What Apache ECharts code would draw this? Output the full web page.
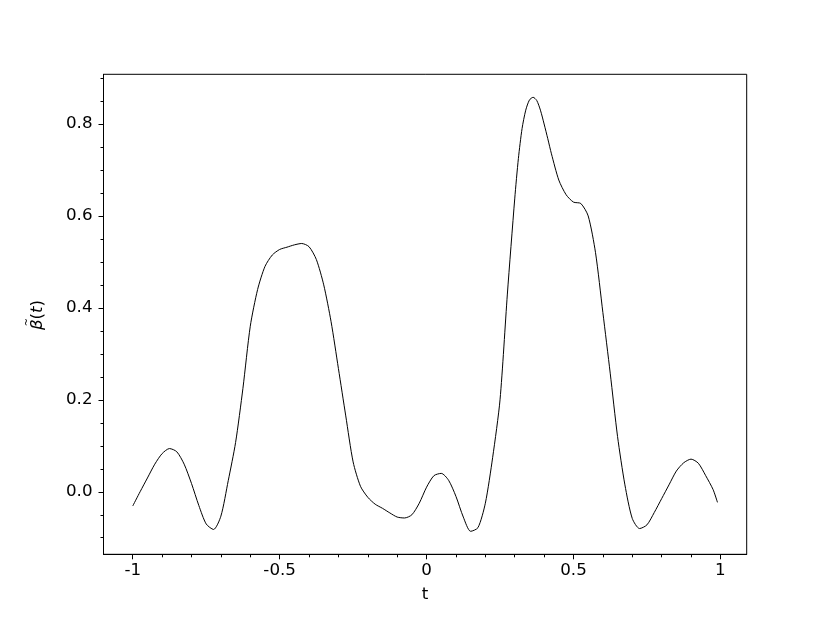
<!DOCTYPE html>
<html>
<head>
<meta charset="utf-8">
<script src="https://cdn.jsdelivr.net/npm/echarts@6/dist/echarts.min.js"></script>
<style>
  html, body { margin: 0; padding: 0; background: #fff; }
  #chart { width: 830px; height: 623px; }
</style>
</head>
<body>
<div id="chart"></div>
<script>
// curve samples
var tValues = [
  -1.00, -0.975, -0.95, -0.925, -0.90, -0.875, -0.85, -0.825, -0.80, -0.775,
  -0.75, -0.725, -0.70, -0.675, -0.65, -0.625, -0.60, -0.575, -0.55, -0.525,
  -0.50, -0.475, -0.45, -0.425, -0.40, -0.375, -0.35, -0.325, -0.30, -0.275,
  -0.25, -0.225, -0.20, -0.175, -0.15, -0.125, -0.10, -0.075, -0.05, -0.025,
  0.00, 0.025, 0.05, 0.075, 0.10, 0.125, 0.15, 0.175, 0.20, 0.225,
  0.25, 0.275, 0.30, 0.3125, 0.325, 0.3375, 0.35, 0.3625, 0.375, 0.3875,
  0.40, 0.4125, 0.425, 0.45, 0.475,
  0.50, 0.525, 0.55, 0.575, 0.60, 0.625, 0.65, 0.675, 0.70, 0.725,
  0.75, 0.775, 0.80, 0.825, 0.85, 0.875, 0.90, 0.925, 0.95, 0.975, 0.99
];
var betaValues = [
  -0.031, 0.000, 0.030, 0.060, 0.083, 0.094, 0.087, 0.060, 0.018, -0.030,
  -0.070, -0.082, -0.053, 0.024, 0.107, 0.225, 0.360, 0.440, 0.490, 0.515,
  0.527, 0.532, 0.537, 0.540, 0.533, 0.505, 0.450, 0.370, 0.268, 0.165,
  0.065, 0.012, -0.012, -0.027, -0.036, -0.046, -0.055, -0.057, -0.050, -0.025,
  0.010, 0.035, 0.040, 0.025, -0.010, -0.055, -0.086, -0.078, -0.025, 0.075,
  0.200, 0.430, 0.637, 0.725, 0.790, 0.830, 0.852, 0.858, 0.851, 0.830,
  0.800, 0.768, 0.735, 0.678, 0.646,
  0.630, 0.627, 0.600, 0.520, 0.390, 0.258, 0.120, 0.015, -0.058, -0.080,
  -0.072, -0.045, -0.015, 0.015, 0.045, 0.063, 0.071, 0.062, 0.035, 0.005, -0.023
];
var xMajorTicks = [-1, -0.5, 0, 0.5, 1];
var xMinorTicks = [-1.0, -0.9, -0.8, -0.7, -0.6, -0.5, -0.4, -0.3, -0.2, -0.1, 0, 0.1, 0.2, 0.3, 0.4, 0.5, 0.6, 0.7, 0.8, 0.9, 1.0];
var yMajorTicks = [0, 0.2, 0.4, 0.6, 0.8];
var yMinorTicks = [-0.1, -0.05, 0, 0.05, 0.1, 0.15, 0.2, 0.25, 0.3, 0.35, 0.4, 0.45, 0.5, 0.55, 0.6, 0.65, 0.7, 0.75, 0.8, 0.85, 0.9];

var points = tValues.map(function (t, i) { return [t, betaValues[i]]; });

var xMin = -1.0995, xMax = 1.0895;
var yMin = -0.136, yMax = 0.908;
var font = "DejaVu Sans";
var fs = 16.7;

var myChart = echarts.init(document.getElementById("chart"), null, { renderer: "canvas" });
myChart.setOption({
  animation: false,
  backgroundColor: "#fff",
  textStyle: { fontFamily: font },
  grid: {
    show: true,
    left: 103.5,
    right: 83.3,
    top: 74.3,
    bottom: 68.7,
    borderColor: "#000",
    borderWidth: 1
  },
  // y label: beta with a tilde over it, drawn as rotated text
  graphic: [
    {
      type: "group",
      x: 38,
      y: 315,
      rotation: Math.PI / 2,
      children: [
        {
          type: "text",
          x: 0,
          y: 0,
          style: {
            text: "{g|β}({g|t})",
            align: "center",
            verticalAlign: "middle",
            fontFamily: font,
            fontSize: fs,
            fill: "#000",
            rich: { g: { fontFamily: font, fontSize: fs, fontStyle: "italic", fill: "#000" } }
          }
        },
        {
          type: "text",
          x: -7,
          y: -11,
          style: {
            text: "~",
            align: "center",
            verticalAlign: "middle",
            fontFamily: font,
            fontSize: 10,
            fill: "#000"
          }
        }
      ]
    }
  ],
  xAxis: [
    {
      type: "value",
      min: xMin,
      max: xMax,
      name: "t",
      nameLocation: "middle",
      nameGap: 32,
      nameTextStyle: { fontFamily: font, fontSize: fs, color: "#000" },
      axisLine: { show: true, onZero: false, lineStyle: { color: "#000", width: 1 } },
      axisTick: { show: true, customValues: xMajorTicks, length: 5, lineStyle: { color: "#000" } },
      axisLabel: {
        customValues: xMajorTicks,
        margin: 8,
        fontFamily: font,
        fontSize: fs,
        color: "#000",
        formatter: function (v) { return String(v); }
      },
      splitLine: { show: false }
    },
    {
      type: "value",
      min: xMin,
      max: xMax,
      position: "bottom",
      axisLine: { show: false, onZero: false },
      axisTick: { show: true, customValues: xMinorTicks, length: 3, lineStyle: { color: "#000" } },
      axisLabel: { show: false },
      splitLine: { show: false }
    }
  ],
  yAxis: [
    {
      type: "value",
      min: yMin,
      max: yMax,
      axisLine: { show: true, onZero: false, lineStyle: { color: "#000", width: 1 } },
      axisTick: { show: true, customValues: yMajorTicks, length: 5, lineStyle: { color: "#000" } },
      axisLabel: {
        customValues: yMajorTicks,
        margin: 11,
        fontFamily: font,
        fontSize: fs,
        color: "#000",
        formatter: function (v) { return v.toFixed(1); }
      },
      splitLine: { show: false }
    },
    {
      type: "value",
      min: yMin,
      max: yMax,
      position: "left",
      axisLine: { show: false, onZero: false },
      axisTick: { show: true, customValues: yMinorTicks, length: 3, lineStyle: { color: "#000" } },
      axisLabel: { show: false },
      splitLine: { show: false }
    }
  ],
  series: [
    {
      type: "line",
      data: points,
      smooth: 0.25,
      showSymbol: false,
      symbol: "none",
      lineStyle: { color: "#000", width: 1 }
    }
  ]
});
</script>
</body>
</html>
